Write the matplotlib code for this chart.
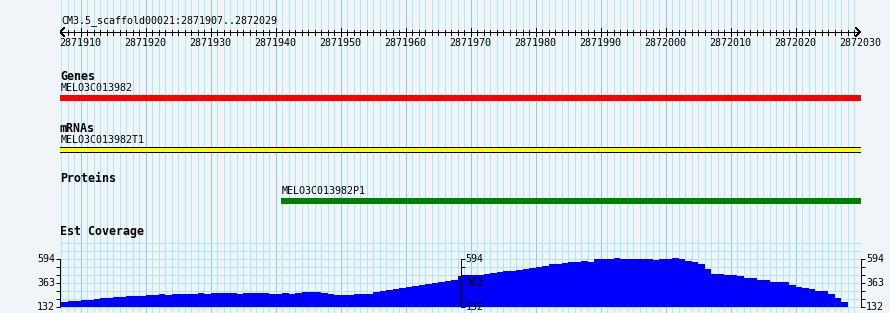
import matplotlib
matplotlib.use("Agg")
import matplotlib.pyplot as plt
import numpy as np

plt.rcParams['font.family'] = 'DejaVu Sans Mono'

# region shown
seq_name = "CM3.5_scaffold00021"
region_start, region_end = 2871907, 2872029

# features
gene_name, gene_start, gene_end = "MELO3C013982", 2871907, 2872029
mrna_name, mrna_start, mrna_end = "MELO3C013982T1", 2871907, 2872029
prot_name, prot_start, prot_end = "MELO3C013982P1", 2871941, 2872029

# EST coverage per base, starting at region_start
est_cov = [178, 188, 188, 197, 197, 207, 217, 217, 226, 226,
           236, 236, 236, 246, 246, 255, 246, 255, 255, 255,
           255, 265, 255, 265, 265, 265, 265, 255, 265, 265,
           265, 265, 255, 255, 265, 255, 265, 274, 274, 274,
           265, 255, 246, 246, 246, 255, 255, 255, 274, 279,
           289, 298, 308, 318, 327, 337, 346, 356, 366, 375,
           387, 425, 435, 435, 440, 445, 454, 464, 474, 474,
           483, 493, 503, 515, 525, 541, 541, 551, 560, 560,
           570, 560, 589, 589, 589, 599, 589, 589, 589, 589,
           589, 580, 589, 589, 599, 589, 570, 560, 541, 493,
           445, 445, 435, 435, 425, 406, 406, 387, 387, 364,
           364, 364, 342, 323, 313, 300, 281, 281, 249, 217,
           172, 132, 132]
cov_min, cov_mid, cov_max = 132, 363, 594

bg = '#F1F5FA'
grid_minor = '#A8EBF0'
grid_major = '#88CCF2'
W, H = 890, 313
px = 0.72  # one pixel in points

fig = plt.figure(figsize=(W / 100, H / 100), dpi=100)
fig.patch.set_facecolor(bg)

# track area: pixel 60..861
x0 = region_start - 1.2 / 6.5
x1 = region_end + 1 + 0.3 / 6.5
per_px = (x1 - x0) / 801
ax = fig.add_axes([60 / W, 0, 801 / W, 1])
ax.set_xlim(x0, x1)
ax.set_ylim(H, 0)
ax.axis('off')

bases = np.arange(region_start, region_end + 2)
minor = bases[bases % 10 != 0]
major = bases[bases % 10 == 0]
ax.vlines(minor, 0, H, colors=grid_minor, lw=px, antialiased=False, zorder=0)
ax.vlines(major, 0, H, colors=grid_major, lw=px, antialiased=False, zorder=0)

small = dict(fontsize=7.2, color='black')
bold = dict(fontsize=8.4, color='black', fontweight='bold')

# ruler
ax.text(x0 + per_px, 21, f"{seq_name}:{region_start}..{region_end}", va='center', ha='left', **small)
ax.hlines(32, x0, x1 - per_px, colors='black', lw=px, antialiased=False)
ax.vlines(bases[1:-1][bases[1:-1] % 10 != 0], 30, 35, colors='black', lw=px, antialiased=False)
ax.vlines(major, 28, 36, colors='black', lw=px, antialiased=False)
ax.plot([x0 + 4 * per_px, x0, x0 + 4 * per_px], [28, 32, 36], color='black', lw=px, antialiased=False)
ax.plot([x1 - 5 * per_px, x1 - per_px, x1 - 5 * per_px], [28, 32, 36], color='black', lw=px, antialiased=False)
for m in major:
    ax.text(m, 42.5, str(m), ha='center', va='center', **small)

# Genes
ax.text(x0, 76, "Genes", ha='left', va='center', **bold)
ax.text(gene_start - per_px, 88, gene_name, ha='left', va='center', **small)
ax.barh(98, gene_end + 1 - gene_start + 2 * per_px, left=gene_start - 2 * per_px, height=6,
        color='#FF0000', lw=0, antialiased=False)

# mRNAs
ax.text(x0, 128, "mRNAs", ha='left', va='center', **bold)
ax.text(mrna_start - per_px, 140, mrna_name, ha='left', va='center', **small)
ax.barh(149.5, mrna_end + 1 - mrna_start + 2 * per_px, left=mrna_start - 2 * per_px, height=5,
        color='#FFFF00', lw=0, antialiased=False)
ax.hlines([147, 152], mrna_start - 2 * per_px, mrna_end + 1, colors='black', lw=px, antialiased=False)

# Proteins
ax.text(x0, 179, "Proteins", ha='left', va='center', **bold)
ax.text(prot_start - per_px, 191, prot_name, ha='left', va='center', **small)
ax.barh(201, prot_end + 1 - prot_start + per_px, left=prot_start - per_px, height=6,
        color='#008000', lw=0, antialiased=False)

# Est Coverage
ax.text(x0, 231, "Est Coverage", ha='left', va='center', **bold)

cov_ax = fig.add_axes([60 / W, (H - 306.5) / H, 801 / W, 48 / H])
cov_ax.set_xlim(x0, x1)
cov_ax.set_ylim(cov_min, cov_max)
cov_ax.patch.set_visible(False)
step = (cov_max - cov_min) / 6
levels = cov_min + step * np.arange(0, 9)
cov_ax.hlines(levels, x0, x1, colors=grid_minor, lw=px, antialiased=False, clip_on=False, zorder=0.5)
cov = np.array(est_cov)
cov_ax.bar(np.arange(region_start, region_start + len(cov)), cov - cov_min, bottom=cov_min,
           width=1, align='edge', color='#0000FF', lw=0, antialiased=False, clip_on=False, zorder=2)
for s in ['top', 'right', 'bottom']:
    cov_ax.spines[s].set_visible(False)
cov_ax.set_xticks([])

tick_major = [cov_min, cov_mid, cov_max]
tick_minor = list(cov_min + step * np.array([1, 2, 4, 5]))
mid_ax = cov_ax.secondary_yaxis(0.5)
right_ax = cov_ax.secondary_yaxis('right')
mid_ax.set_zorder(5)
right_ax.set_zorder(5)
for a, side in [(cov_ax, 'left'), (mid_ax, 'right'), (right_ax, 'right')]:
    a.set_yticks(tick_major)
    a.set_yticks(tick_minor, minor=True)
    a.set_yticklabels([str(t) for t in tick_major])
    a.spines[side].set_linewidth(px)
    a.spines[side].set_color('black')
    a.tick_params(axis='y', which='both', direction='out', length=3, width=px,
                  labelsize=7.2, pad=0.5)

fig.savefig('out.png', dpi=100, facecolor=bg)
